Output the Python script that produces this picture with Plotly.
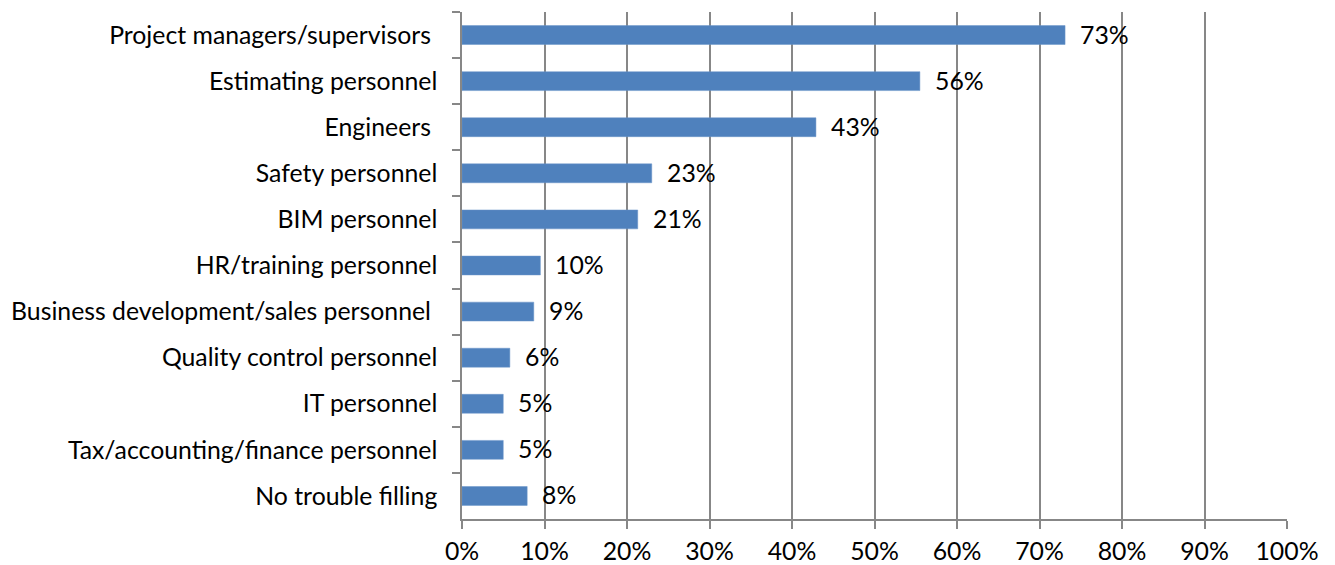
import plotly.graph_objects as go

categories = [
    "Project managers/supervisors ",
    "Estimating personnel",
    "Engineers ",
    "Safety personnel",
    "BIM personnel",
    "HR/training personnel",
    "Business development/sales personnel ",
    "Quality control personnel",
    "IT personnel",
    "Tax/accounting/finance personnel",
    "No trouble filling",
]
values = [73.1, 55.5, 42.9, 23.0, 21.3, 9.5, 8.7, 5.8, 5.0, 5.0, 7.9]
labels = ["73%", "56%", "43%", "23%", "21%", "10%", "9%", "6%", "5%", "5%", "8%"]
x_ticks = list(range(0, 101, 10))
x_tick_labels = [f"{t}%" for t in x_ticks]

FONT = "Lato"
FS = 24.8
GRID = "#878787"

fig = go.Figure()
fig.add_trace(go.Bar(
    x=values, y=categories, orientation="h",
    marker=dict(color="#4F81BD", line=dict(color="#6a95c9", width=0.5)),
    hoverinfo="skip",
))
for c, v, lab in zip(categories, values, labels):
    fig.add_annotation(x=v, y=c, text=lab, showarrow=False, xanchor="left",
                       xshift=13, yshift=1, font=dict(family=FONT, size=FS, color="#000"))

fig.update_layout(
    width=1335, height=565,
    margin=dict(l=462, r=48, t=12, b=46, autoexpand=False),
    paper_bgcolor="white", plot_bgcolor="white",
    bargap=0.59, showlegend=False,
    font=dict(family=FONT, size=FS, color="#000"),
)
fig.update_xaxes(
    range=[0, 100], tickvals=x_ticks, ticktext=x_tick_labels,
    showgrid=True, gridcolor=GRID, gridwidth=1.5,
    showline=True, linecolor=GRID, linewidth=1.5,
    ticks="outside", ticklen=8, tickcolor=GRID, tickwidth=1.5,
    zeroline=False, tickfont=dict(family=FONT, size=FS),
    ticklabelstandoff=1, automargin=False,
)
fig.update_yaxes(
    categoryorder="array", categoryarray=categories, autorange="reversed",
    showline=True, linecolor=GRID, linewidth=1.5,
    ticks="outside", ticklen=8, tickcolor=GRID, tickwidth=1.5,
    tickson="boundaries", showgrid=False, automargin=False,
    ticklabelstandoff=18, tickfont=dict(family=FONT, size=FS),
)
fig.write_html("out.html")
